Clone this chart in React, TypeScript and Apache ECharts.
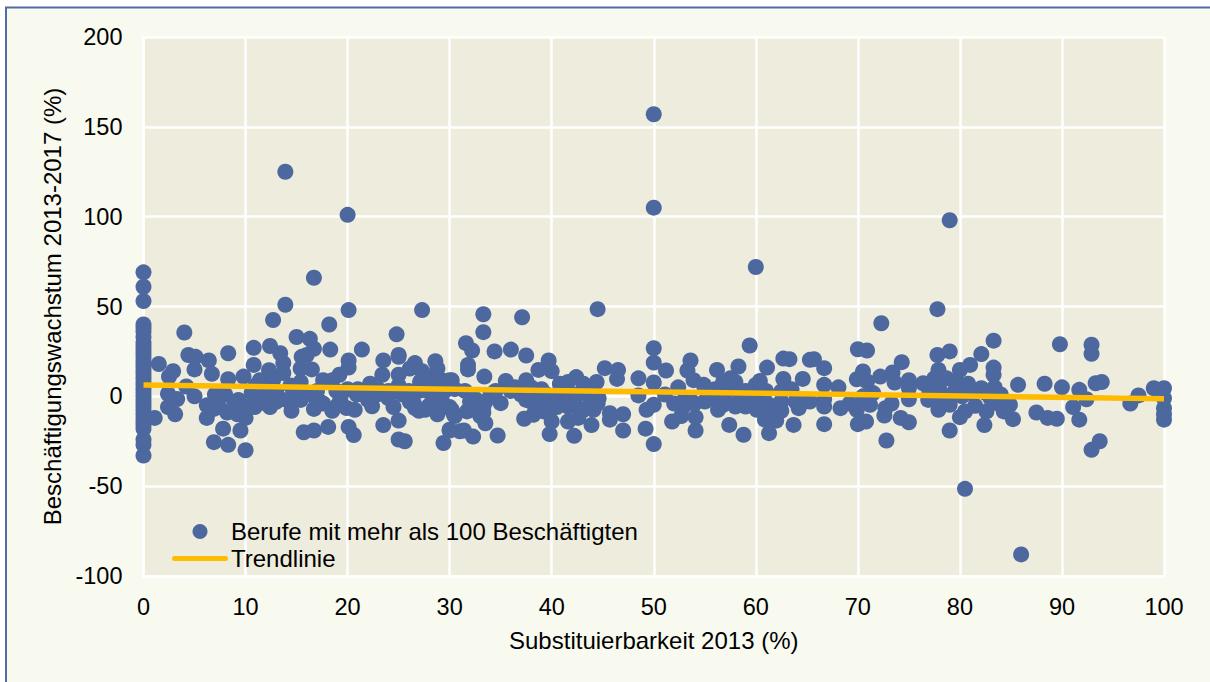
import React, { useEffect, useRef } from "react";
import * as echarts from "echarts";

const seriesName = "Berufe mit mehr als 100 Beschäftigten";
const trendName = "Trendlinie";
const trendPoints = [[0, 6.3], [100, -1.3]];

const zeroColumn = [69, 61, 53, 40, 38, 36, 33, 30, 28, 26, 24, 22, 20, 18, 16, 14, 12, 10, 8, 6, 4, 2, 0, -2, -4, -6, -8, -10, -12, -14, -16, -18, -24, -27, -33];

const outliers = [[13.9, 125], [50, 157], [50, 105], [20, 101], [16.7, 66], [60, 72], [79, 98], [80.5, -51.5], [86, -88]];

const band0to30 = [
  [4, 35.5], [1.5, 18], [1.1, -12], [2.9, 14], [2.5, 11], [4.4, 23], [5.1, 22], [5, 15], [4.2, 5.5], [5, 0],
  [2.4, 1.5], [3.3, -1.5], [2.4, -6], [3.1, -10], [6.4, 20], [6.7, 12.5], [8.3, 24], [8.3, 9.5], [6.2, -5], [7, 1],
  [8, 1], [7.4, -6], [6.2, -12], [6.9, -7], [7.8, -18], [6.9, -25.5], [8.3, -27], [9.5, -19], [10, -30], [8.2, -9],
  [9.2, -10], [10, -12], [9.3, -2], [10.1, -6], [10.9, -6], [10.6, 2], [9.8, 11], [10.8, 17.5], [10.8, 27], [12.3, 14.5],
  [12.4, 28], [13.4, 24], [13.7, 18.5], [13.7, 13], [11.4, 9], [12.7, 9], [12, 3.5], [12.4, -6], [13.2, -1], [11.8, -2],
  [12.7, 42.5], [13.9, 51], [14.5, -8], [14.4, 6], [15.4, 8], [15, 33], [16.3, 32], [16.7, 26.5], [15.5, 22], [16, 23],
  [15.4, 15.5], [16.5, 15], [15.7, -20], [16.7, -19], [18.2, 40], [18.3, 26], [18.1, -17], [20.1, 48], [20.1, 20], [20.1, 16],
  [19.2, 12], [17.6, 9], [18.5, 9], [15.4, -2], [16.7, 0], [16.7, -7], [17.3, -3], [18.5, -8], [17.6, -4], [19.3, -1],
  [19.9, -6.5], [20.7, -7.5], [20.1, -17], [20.6, -21.5], [21.4, 26], [22.4, -5.5], [22.2, 7], [20.9, 1], [21.9, 0], [23.4, 12],
  [23.5, 20], [23.5, -16], [25, 22], [25, 23], [24.8, 34.5], [25, 12], [25, 6], [24.5, -6], [25, -13.5], [25, -24],
  [25.6, -25], [22.9, 1], [23.9, 1], [26.1, -3], [26.6, -6.5], [26.6, 18.5], [26.1, 15.5], [27.3, 14], [27.3, 48], [27.1, 8],
  [27.9, 10], [27.6, -7.5], [28.6, 19.5], [28.8, 15.5], [29.2, 9], [30, 9], [28.8, -10], [29.4, -26], [30, -19], [30, -6],
  [28.4, -2], [29.2, -1], [30.4, -10], [31, -19.5],
  [8.9, -4], [9.7, -8], [11, 6], [13, 3], [14, -2], [14.8, 4], [15.8, 1], [17, 3], [18.9, 3], [20, 4],
  [21, 4], [22, 3], [23, 4], [24, 3], [25.4, 1], [26, 3], [27, 3], [27.8, 3], [28.5, 3], [29.5, 3],
  [26.5, -4], [27, -8], [28, -5], [29, -6], [24, -1], [22, -2], [19, -5], [13, -3], [12, -4], [11, -3],
];

const band30to65 = [
  [33.3, 45.7], [37.1, 44], [33.3, 35.7], [44.5, 48.5], [31.6, 29.6], [32.2, 25.5], [34.4, 25], [36, 26], [37.5, 22.7], [31.8, 17.5],
  [31.8, 15], [30.2, 9], [33.4, 11], [35.5, 8.6], [36.4, 5], [34, 1], [37.5, 9], [39.7, 20], [38.7, 14.7], [40, 14],
  [40.8, 7], [42.4, 10.7], [41.6, 8], [43.1, 7], [44.4, 8], [45.2, 15.7], [46.5, 14.7], [46.4, 9.7], [48.5, 10], [48.5, 0.5],
  [50, 26.8], [50, 18.8], [51.2, 14.4], [50, 7.7], [51.1, 1], [52.4, 5], [53.6, 20], [53.3, 14.4], [53.9, 9], [54.9, 6.4],
  [56.2, 14.7], [58.3, 16.6], [59.4, 28.3], [57.5, 10], [56.8, 8], [58, 8], [60, 6.4], [60.4, 8.6], [61.1, 16], [62.7, 21],
  [63.3, 20.7], [62.7, 9.7], [64.6, 9.7], [62.5, 2.7], [65.3, 20.3], [38.2, -4], [40, -2], [41.3, -2], [44.6, -1], [43.8, -2],
  [41.6, -5.7], [42.6, -6.6], [39.8, -8.4], [39.2, -8.4], [38.2, -10.3], [37.3, -12.5], [40, -14], [39.8, -21], [41.6, -14], [42.6, -12],
  [42.2, -22], [43.9, -16], [44.1, -7.5], [45.7, -9.4], [45.7, -13], [47, -10], [47, -19], [49.3, -7.5], [50, -4.7], [49.2, -18],
  [50, -26.6], [35, -3.8], [32.5, -1.4], [33.3, -5.7], [31.7, -8.4], [33, -11], [33.5, -15], [30.2, -7.5], [30.5, -11], [32.3, -22.4],
  [31.4, -19], [30, -18.6], [34.7, -21.8], [33, -8], [33.3, -9], [51.8, -14], [52.7, -11], [52.9, -5.7], [54.1, -11.6], [54.1, -19],
  [55, -2.9], [53.6, -2], [56.3, -7.5], [56.8, -4.7], [58, -5.7], [59, -5.7], [57.4, -15.9], [58.8, -21.4], [60.1, -7.5], [61.3, -4.7],
  [60.9, -13], [61.3, -20.5], [62, -13.5], [63.7, -15.9], [62.5, -2.9], [64.2, -6.6], [63.9, -2.9], [64.8, -2.9],
  [36, 3], [38, 5], [39, 4], [41, 4], [43, 3], [44, 3], [55, 4], [56, 4], [57.5, 4], [59, 3], [61, 3], [63.5, 4],
  [30.5, 4], [31.5, 3], [32, -3], [33.5, -3], [34.5, 3], [37, 1], [37.5, -2], [38.5, 1], [39.5, 1], [40.5, 1],
  [41.5, 1], [42.5, 1], [43.5, 1], [39, -6], [40.5, -6], [43, -8], [44.5, -4], [52, -4], [53, -2], [54, -4],
  [55.5, -1], [56.5, 1], [57, -2], [58.5, 0], [59.5, 0], [60.5, -2], [61.5, -8], [62.5, -8],
];

const band65to100 = [
  [77.8, 48.5], [72.3, 40.7], [83.3, 31], [89.8, 29], [92.9, 28.7], [92.9, 23.7], [70, 26.2], [70.9, 25.5], [77.8, 23], [79, 25],
  [82.1, 23.5], [65.7, 20.7], [66.7, 15.7], [74.3, 19], [81, 17.5], [83.3, 16], [83.3, 12], [77.9, 14.7], [80, 14.7], [70.5, 13.8],
  [73.4, 13.3], [72.2, 11], [69.9, 9.5], [70.9, 8.3], [73.6, 7.7], [75, 9], [66.7, 6.4], [68.1, 5], [76.4, 7.3], [77.5, 10],
  [78.7, 10], [79.7, 8], [80.8, 7], [82.1, 4.5], [83.4, 5], [85.7, 6.4], [88.3, 7], [90, 5], [91.7, 3.6], [93.3, 7.3],
  [93.9, 8], [97.5, 0.5], [99, 4.5], [100, 4.5], [96.7, -4], [92.4, -1.6], [91.1, -6], [91.7, -13], [87.5, -9], [88.6, -12],
  [89.5, -12.5], [85.2, -12.7], [84.9, -4.7], [84.3, -8.4], [82.4, -16], [79, -19], [80, -11.6], [80.5, -8.4], [81.5, -5.3], [82.6, -8.4],
  [77.9, -7.5], [76.9, -2], [78.2, -2], [79, -4.7], [80.2, 0], [78, 3.6], [83, -1], [83.6, -3.8], [75, -1.6], [75, 4.5],
  [73.3, -4], [72.7, -6.6], [72.6, -10.7], [74.2, -12], [75, -14.4], [72.8, -24.6], [71.2, -4.7], [71.5, 1.8], [70.5, 0], [69.9, -7.5],
  [69.2, -4], [68.3, -6.6], [66.7, -1.6], [66.7, -5.7], [66.7, -15.5], [65.3, -2.9], [70, -15.5], [70.8, -14], [92.9, -29.8], [93.7, -25],
  [100, -1], [100, -6.6], [100, -10], [100, -13], [77, 3], [79.5, 3], [81, 2], [82.5, 2], [84, 1],
];

const scatterData = [
  ...zeroColumn.map((v) => [0, v]),
  ...outliers,
  ...band0to30,
  ...band30to65,
  ...band65to100,
];

const FONT = "'Liberation Sans', Arial, sans-serif";
const TREND_ICON = "path://M0 0L0.01 0ZM2.5 5H53.5A2.5 2.5 0 0 1 53.5 10H2.5A2.5 2.5 0 0 1 2.5 5ZM56 15L55.99 15Z";

export default function App() {
  const ref = useRef<HTMLDivElement>(null);
  useEffect(() => {
    if (!ref.current) return;
    const chart = echarts.init(ref.current, undefined, { renderer: "svg" });
    chart.setOption({
      animation: false,
      backgroundColor: "#FFFFFF",
      graphic: [
        {
          type: "rect",
          z: -10,
          silent: true,
          shape: { x: 6, y: 7.5, width: 1300, height: 800 },
          style: { fill: "#F9FAEF", stroke: "#4F6CA5", lineWidth: 2 },
        },
      ],
      grid: {
        left: 143.5,
        right: 46,
        top: 37,
        bottom: 106,
        show: true,
        backgroundColor: "#EEECDC",
        borderWidth: 0,
      },
      legend: {
        left: 172,
        top: 519.5,
        padding: 0,
        orient: "vertical",
        itemWidth: 56,
        itemHeight: 15,
        itemGap: 3,
        align: "left",
        selectedMode: false,
        textStyle: { fontFamily: FONT, fontSize: 24, color: "#000", padding: [0, 0, 0, -2] },
        data: [{ name: seriesName, icon: "circle" }, { name: trendName, icon: TREND_ICON }],
      },
      xAxis: {
        type: "value",
        min: 0,
        max: 100,
        interval: 10,
        name: "Substituierbarkeit 2013 (%)",
        nameLocation: "middle",
        nameGap: 52,
        nameTextStyle: { fontFamily: FONT, fontSize: 24, color: "#000" },
        axisLine: { onZero: false, show: true, lineStyle: { color: "#FFFFFF", width: 2.5 } },
        axisTick: { show: false },
        axisLabel: { fontFamily: FONT, fontSize: 23.5, color: "#000", margin: 19 },
        splitLine: { show: true, lineStyle: { color: "#FFFFFF", width: 2.5 } },
      },
      yAxis: {
        type: "value",
        min: -100,
        max: 200,
        interval: 50,
        name: "Beschäftigungswachstum 2013-2017 (%)",
        nameLocation: "middle",
        nameGap: 79,
        nameTextStyle: { fontFamily: FONT, fontSize: 24, color: "#000" },
        axisLine: { onZero: false, show: true, lineStyle: { color: "#FFFFFF", width: 2.5 } },
        axisTick: { show: false },
        axisLabel: { fontFamily: FONT, fontSize: 23.5, color: "#000", margin: 21 },
        splitLine: { show: true, lineStyle: { color: "#FFFFFF", width: 2.5 } },
      },
      series: [
        {
          name: seriesName,
          type: "scatter",
          symbol: "circle",
          symbolSize: 16,
          clip: false,
          itemStyle: { color: "#4C689F", opacity: 1 },
          data: scatterData,
          z: 2,
        },
        {
          name: trendName,
          type: "line",
          symbol: "none",
          clip: false,
          lineStyle: { color: "#FFBB00", width: 5.5 },
          itemStyle: { color: "#FFBB00" },
          data: trendPoints,
          z: 3,
        },
      ],
    });
    return () => chart.dispose();
  }, []);
  return <div ref={ref} style={{ position: "absolute", left: 0, top: 0, width: 1210, height: 682 }} />;
}
